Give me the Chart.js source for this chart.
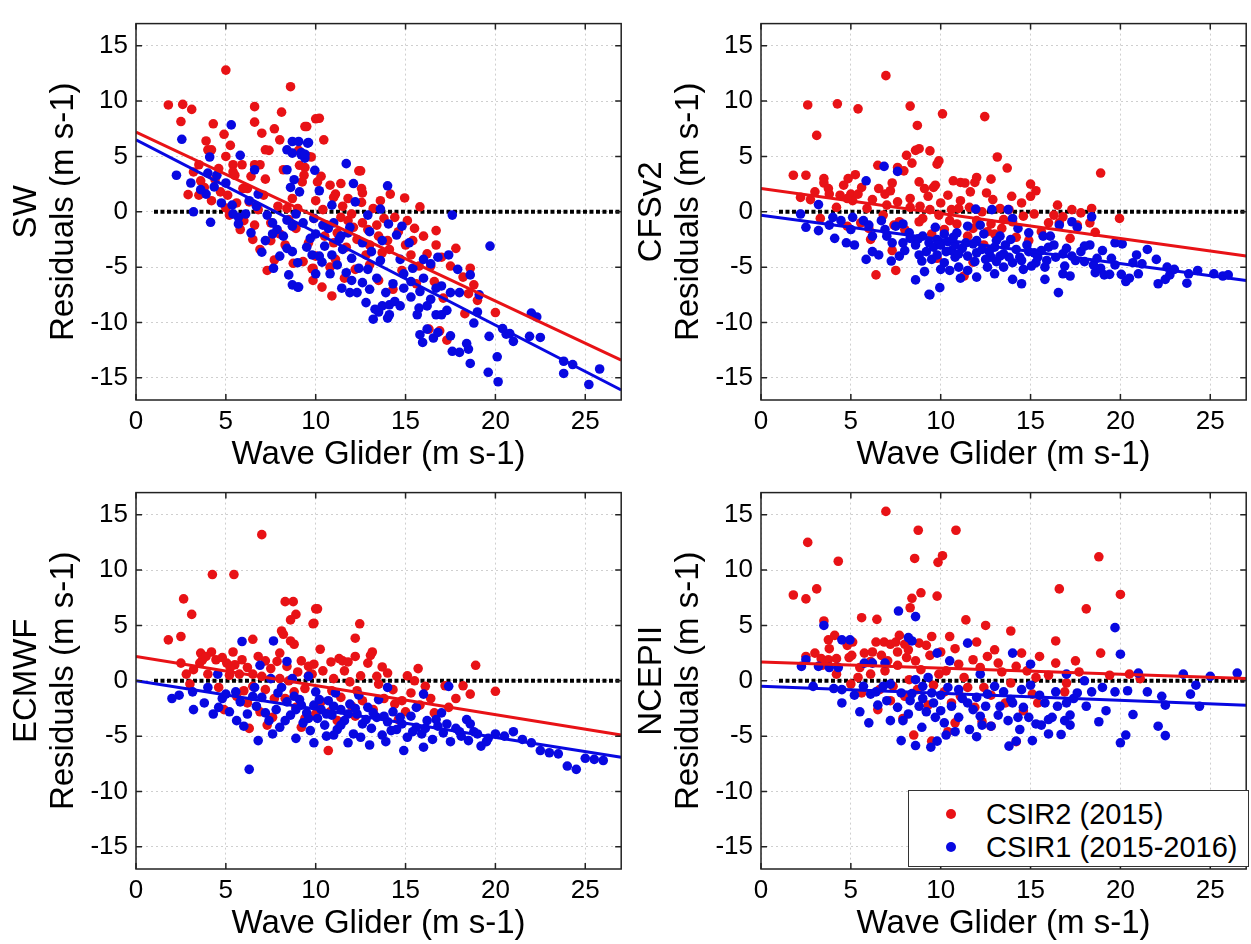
<!DOCTYPE html>
<html>
<head>
<meta charset="utf-8">
<script src="https://cdn.jsdelivr.net/npm/chart.js@4.4.1/dist/chart.umd.min.js"></script>
<style>
  body { margin: 0; background: #fff; width: 1251px; height: 944px; overflow: hidden; position: relative; font-family: "Liberation Sans", Arial, sans-serif; }
  .panel { position: absolute; width: 626px; height: 480px; }
  #legend { position: absolute; left: 908px; top: 790px; width: 339px; height: 75px; border: 1px solid #333; background: #fff; font-size: 29px; color: #000; }
  #legend .row { position: absolute; left: 0; height: 34px; line-height: 34px; }
  #legend .dot { position: absolute; left: 37px; top: 12px; width: 10px; height: 10px; border-radius: 50%; }
  #legend .txt { position: absolute; left: 77px; top: 0; white-space: nowrap; }
</style>
</head>
<body>
<div class="panel" style="left:0;top:0"><canvas id="sw" width="626" height="480"></canvas></div>
<div class="panel" style="left:625px;top:0"><canvas id="cfs" width="626" height="480"></canvas></div>
<div class="panel" style="left:0;top:469px"><canvas id="ec" width="626" height="480"></canvas></div>
<div class="panel" style="left:625px;top:469px"><canvas id="nc" width="626" height="480"></canvas></div>
<div id="legend">
  <div class="row" style="top:6px"><span class="dot" style="background:rgb(232,18,22)"></span><span class="txt">CSIR2 (2015)</span></div>
  <div class="row" style="top:39px"><span class="dot" style="background:rgb(8,8,225)"></span><span class="txt">CSIR1 (2015-2016)</span></div>
</div>
<script>
const xTicks = [0, 5, 10, 15, 20, 25];
const yTicks = [-15, -10, -5, 0, 5, 10, 15];
const fitX = [0, 27];
const zeroX = [1, 27];
const seriesNames = ['CSIR2 (2015)', 'CSIR1 (2015-2016)'];

// SW
const swRed = [[1.8,9.65],[2.6,9.7],[3.1,9.25],[2.5,8.15],[5.0,12.8],[8.6,11.3],[6.6,9.5],[6.6,8.1],[8.1,9.0],[7.7,7.5],[7.0,7.1],[4.9,7.0],[4.3,7.95],[5.25,6.0],[3.9,6.4],[4.0,5.6],[4.2,5.6],[7.4,5.55],[7.2,5.6],[9.5,7.7],[10.0,8.4],[3.5,4.25],[3.6,2.8],[3.5,1.5],[2.9,1.55],[5.0,5.0],[5.4,4.25],[5.4,3.6],[5.5,3.3],[5.9,4.25],[6.4,3.2],[6.6,4.25],[6.9,4.25],[7.2,2.95],[5.95,2.1],[6.2,2.1],[4.7,1.8],[5.1,1.5],[5.0,0.35],[5.2,-0.3],[9.05,5.55],[9.1,4.2],[9.6,5.0],[8.4,0.3],[8.7,1.2],[10.0,1.0],[6.5,-2.5],[9.25,2.7],[7.7,-4.35],[8.75,-4.65],[9.3,-4.5],[9.85,-6.2],[9.85,-5.1],[10.2,8.45],[9.4,7.7],[10.45,6.5],[9.75,4.95],[12.4,3.7],[12.5,3.7],[10.8,2.4],[11.4,2.55],[12.55,2.1],[12.6,1.7],[11.0,1.3],[11.1,1.6],[11.8,1.2],[12.55,0.85],[14.15,1.6],[14.95,1.25],[15.8,0.45],[16.7,-1.7],[15.4,-2.6],[16.7,-3.0],[12.9,-1.6],[11.4,-0.5],[10.3,3.2],[10.1,2.7],[9.4,4.0],[9.35,3.3],[13.5,-2.2],[12.6,-1.0],[12.1,-1.4],[9.8,-5.15],[10.35,-6.8],[10.9,-7.6],[11.1,-4.3],[12.8,-3.9],[13.7,-3.7],[14.1,-3.4],[15.3,-3.9],[15.75,-4.9],[16.4,-4.9],[16.6,-6.3],[17.5,-4.9],[18.6,-5.1],[18.8,-6.6],[18.5,-7.4],[18.3,-9.2],[20.0,-9.1],[16.9,-10.75],[17.3,-11.6],[16.3,-10.6],[13.5,-6.2],[14.3,-7.0],[10.0,-4.0],[7.5,-1.0],[8.0,-2.0],[8.3,-3.0],[7.9,0.5],[6.8,0.2],[6.0,-0.8],[5.6,0.8],[4.4,2.9],[4.6,3.9],[8.9,-1.5],[9.6,-2.8],[10.6,-1.2],[11.0,-2.8],[11.7,-3.2],[10.4,0.2],[13.2,0.3],[13.8,-0.6],[14.6,-1.8],[15.1,-0.8],[7.3,-5.3],[6.9,-3.4],[11.6,-6.0],[12.2,-5.2],[13.0,-4.8],[14.8,-5.3],[15.6,-6.5],[17.1,-7.8],[3.2,3.6],[8.2,3.8],[8.0,6.5],[10.5,-2.2],[11.2,-1.9],[11.8,-0.8],[12.3,-2.5],[13.0,-3.0],[13.4,-1.2],[14.0,-2.6],[14.4,-0.5],[15.0,-3.0],[15.5,-1.5],[16.0,-2.2],[16.2,-3.8],[17.0,-4.1],[17.8,-3.3],[18.2,-5.9],[19.0,-8.0],[11.5,0.5],[12.0,-0.2],[13.6,1.0],[8.5,-0.7],[9.0,0.3],[9.9,-0.6],[7.1,1.5],[6.3,0.9],[4.2,1.0],[3.8,2.2],[5.8,-1.6],[6.6,-1.2],[7.5,-2.6],[10.8,-5.0]];
const swBlue = [[2.55,6.55],[5.3,7.85],[2.25,3.3],[3.05,2.6],[4.1,4.95],[4.5,3.3],[4.0,3.5],[3.9,1.6],[4.35,2.25],[4.75,0.8],[4.15,-0.95],[5.35,0.6],[5.8,5.1],[6.6,3.8],[6.8,1.6],[6.7,0.5],[8.7,6.35],[9.05,6.35],[9.55,6.2],[8.4,5.6],[8.7,5.3],[9.2,5.15],[9.4,4.85],[8.4,3.8],[8.8,2.9],[8.6,2.2],[9.1,1.8],[8.4,-0.75],[8.7,-1.3],[8.2,-2.2],[7.85,-1.6],[7.6,-1.0],[5.7,-0.5],[6.1,-0.2],[5.4,-0.2],[5.7,-1.1],[7.0,-3.65],[7.65,-5.1],[8.5,-5.7],[8.7,-6.6],[9.0,-6.8],[8.4,-3.3],[8.7,-3.6],[9.8,-3.9],[9.6,6.25],[9.2,5.35],[9.4,5.2],[9.95,3.75],[11.7,4.35],[12.1,2.55],[14.0,2.35],[10.2,1.9],[12.2,0.9],[13.6,0.25],[17.6,-0.3],[14.05,-1.1],[14.8,-1.3],[14.5,-2.1],[19.7,-3.1],[11.9,-1.4],[11.0,-1.0],[10.0,-2.0],[11.3,-2.5],[11.4,-2.2],[10.7,-1.5],[9.05,-6.8],[10.35,-4.55],[10.9,-3.9],[11.45,-6.9],[11.9,-7.3],[12.3,-7.3],[11.7,-5.5],[12.4,-5.1],[12.9,-5.2],[13.2,-9.7],[13.5,-9.05],[14.0,-9.6],[14.1,-9.3],[13.7,-8.5],[14.1,-8.4],[14.4,-8.1],[14.7,-8.5],[15.3,-7.7],[15.65,-9.3],[15.75,-8.7],[15.8,-11.1],[15.95,-11.8],[16.2,-10.6],[16.55,-11.4],[16.8,-10.9],[16.7,-9.3],[17.0,-9.3],[17.3,-8.9],[17.5,-11.2],[17.6,-12.6],[18.0,-12.7],[18.4,-11.9],[18.5,-12.4],[18.6,-13.7],[19.0,-9.05],[18.8,-10.05],[19.6,-14.5],[20.1,-13.1],[20.15,-15.35],[19.65,-11.25],[20.4,-10.55],[20.6,-11.05],[20.8,-11.0],[21.0,-11.7],[21.9,-11.25],[22.5,-11.35],[22.0,-9.15],[22.3,-9.5],[23.8,-13.5],[23.8,-14.6],[24.3,-13.8],[25.2,-15.6],[25.8,-14.2],[16.8,-4.1],[16.4,-4.7],[17.4,-3.9],[17.9,-5.2],[18.6,-5.7],[19.1,-7.5],[18.0,-7.3],[17.5,-7.3],[16.4,-7.9],[17.0,-6.7],[16.7,-6.9],[15.3,-6.3],[14.9,-6.9],[15.8,-7.2],[14.7,-4.3],[6.4,-1.9],[7.2,-2.6],[9.3,-1.0],[9.7,-2.4],[10.5,-3.1],[12.6,-2.8],[13.1,-3.6],[13.6,-4.4],[10.9,0.6],[12.9,-0.3],[7.3,-0.3],[6.3,1.0],[3.6,2.0],[5.0,2.6],[3.2,0.0],[9.5,-3.2],[10.2,-4.0],[10.8,-5.6],[11.2,-4.8],[12.0,-6.2],[12.6,-6.4],[13.0,-7.0],[13.4,-6.0],[13.9,-7.3],[14.3,-6.5],[14.9,-5.6],[15.4,-5.1],[16.0,-6.0],[16.2,-8.5],[12.8,-8.2],[13.3,-8.8],[10.0,-5.6],[11.5,-3.4],[12.0,-4.2],[9.0,-4.6],[8.0,-4.0],[7.6,-2.0],[8.9,-0.2],[9.9,-0.6],[10.4,-1.2],[11.8,-1.9],[13.0,-1.8],[13.7,-2.6],[15.2,-2.8],[16.0,-4.3]];
const swRedFit = [7.2, -13.4];
const swBlueFit = [6.5, -16.1];

// CFSv2
const cfsRed = [[2.6,9.65],[4.25,9.75],[5.4,9.3],[3.1,6.9],[6.95,12.3],[8.3,9.55],[8.7,7.8],[8.1,5.1],[8.6,5.55],[8.8,5.7],[8.4,4.4],[7.95,3.7],[7.6,4.0],[6.5,4.2],[5.25,3.35],[4.85,3.0],[3.5,3.0],[2.5,3.3],[1.8,3.3],[3.5,2.6],[3.75,2.1],[3.8,1.6],[4.4,1.5],[5.0,1.6],[5.4,1.6],[5.1,1.0],[4.8,1.2],[6.55,2.1],[6.9,1.6],[7.2,1.9],[7.6,0.9],[9.1,2.1],[9.7,2.4],[8.8,2.7],[2.75,1.1],[4.8,-1.3],[5.55,-1.0],[6.1,-2.5],[7.7,-0.9],[8.85,0.5],[6.4,-5.7],[7.5,-5.3],[7.3,-3.5],[10.1,8.85],[12.45,8.6],[9.4,5.5],[9.9,4.6],[9.8,4.3],[13.15,4.95],[13.7,3.95],[18.9,3.5],[10.7,2.8],[11.1,2.65],[11.35,2.6],[11.9,2.65],[12.0,3.1],[12.8,2.95],[11.65,1.8],[12.55,1.7],[12.9,1.1],[13.95,1.4],[15.0,2.5],[15.3,1.9],[15.0,1.4],[9.6,2.2],[9.3,1.4],[11.1,1.0],[11.0,0.3],[13.3,0.3],[13.8,0.2],[16.3,-0.3],[16.8,-0.45],[17.8,-0.1],[18.4,0.3],[18.3,-1.0],[19.95,-0.6],[18.6,-1.85],[16.0,-1.0],[16.6,-1.0],[10.5,-0.8],[12.0,-0.8],[12.8,-1.1],[13.5,-0.7],[14.2,-2.3],[14.9,-2.6],[11.3,-5.8],[11.8,-4.55],[9.8,-4.2],[8.0,-1.6],[9.0,-0.6],[9.5,-2.0],[10.2,-1.6],[11.5,-2.2],[12.4,-3.0],[13.0,-2.0],[6.8,-0.3],[5.9,0.3],[4.2,0.4],[3.3,-0.6],[7.3,2.6],[8.3,1.2],[10.0,0.8],[14.6,-0.4],[15.6,-1.8],[17.2,-2.4],[17.6,-1.2],[8.3,0.4],[8.8,-0.9],[9.4,0.2],[9.9,-0.3],[10.4,1.5],[10.9,-1.1],[11.6,0.4],[12.3,0.0],[12.6,-1.8],[13.4,-1.5],[14.0,-0.9],[14.5,0.8],[7.0,0.6],[6.2,1.1],[5.6,2.2],[4.6,2.4],[3.0,1.8],[2.2,1.3],[6.0,-1.5],[7.4,-1.2],[10.6,0.2],[11.8,-1.5],[15.2,-0.2],[16.5,0.6],[17.3,0.2]];
const cfsBlue = [[3.2,0.65],[2.2,-0.2],[2.5,-1.4],[3.2,-1.7],[4.1,-2.4],[4.75,-2.8],[5.2,-3.0],[5.85,2.8],[6.85,4.1],[7.6,3.65],[4.0,-0.5],[4.45,-0.8],[5.1,-0.5],[5.7,-0.8],[6.2,-2.2],[6.7,-0.8],[6.9,-1.6],[7.5,-1.3],[7.9,-1.1],[8.25,-1.9],[8.75,-2.45],[9.0,-2.2],[9.35,-2.8],[7.9,-2.8],[7.3,-2.8],[5.85,-4.3],[6.55,-3.9],[7.25,-4.45],[7.7,-4.0],[8.0,-3.5],[8.6,-6.15],[9.1,-5.4],[9.4,-7.5],[8.95,-4.45],[9.5,-4.3],[9.8,-3.9],[11.95,0.25],[12.85,0.2],[13.75,0.2],[14.0,-0.6],[18.4,-0.45],[17.3,-0.9],[17.6,-1.4],[16.6,-1.2],[19.7,-2.8],[20.1,-2.9],[16.1,-2.2],[15.7,-2.2],[14.9,-1.9],[14.3,-1.5],[13.3,-2.2],[12.2,-1.2],[11.5,-1.3],[10.9,-1.9],[10.2,-2.0],[9.7,-1.4],[13.1,-2.6],[12.0,-2.6],[9.35,-7.45],[9.95,-6.85],[10.2,-4.6],[11.1,-6.0],[12.0,-5.9],[13.0,-5.6],[14.0,-6.1],[15.8,-6.1],[16.55,-7.3],[17.2,-5.8],[16.8,-5.6],[18.6,-5.5],[18.9,-5.1],[19.1,-5.7],[19.4,-5.65],[20.05,-5.65],[20.3,-6.3],[20.5,-6.0],[20.7,-4.6],[20.9,-3.9],[21.2,-4.7],[22.1,-6.5],[22.5,-6.1],[22.75,-5.7],[23.7,-6.45],[23.8,-5.6],[24.3,-5.3],[25.2,-5.6],[25.7,-5.8],[19.7,-4.8],[18.5,-4.8],[18.0,-4.5],[17.5,-4.4],[15.8,-5.0],[15.3,-4.6],[15.05,-4.9],[14.6,-5.2],[14.0,-4.6],[13.8,-4.1],[14.4,-4.1],[13.5,-3.8],[12.8,-4.1],[13.1,-4.5],[12.5,-4.3],[12.0,-3.7],[11.5,-4.0],[11.0,-5.0],[10.8,-4.1],[10.6,-3.5],[16.8,-3.8],[16.4,-4.1],[16.9,-4.9],[15.6,-3.5],[9.6,-3.2],[10.0,-3.0],[10.4,-2.7],[10.8,-3.0],[11.2,-3.3],[11.8,-2.9],[12.3,-3.4],[13.0,-3.2],[13.6,-3.0],[14.2,-3.4],[14.8,-3.0],[15.2,-3.7],[16.0,-3.2],[17.0,-3.3],[17.8,-3.6],[18.3,-3.0],[19.0,-3.5],[21.5,-3.4],[22.0,-4.3],[8.6,-3.0],[9.2,-3.6],[6.2,-3.6],[10.5,-5.3],[12.6,-5.0],[14.5,-6.5],[22.6,-5.0],[26.0,-5.7],[9.8,-2.5],[10.3,-3.6],[10.7,-2.3],[11.0,-3.8],[11.4,-2.8],[11.9,-4.5],[12.4,-2.0],[12.7,-3.6],[13.3,-4.0],[13.9,-2.5],[14.5,-4.4],[14.9,-3.6],[15.4,-4.1],[15.9,-4.4],[16.3,-3.0],[17.3,-4.0],[18.0,-3.1],[18.7,-4.2],[19.5,-4.2],[8.3,-2.4],[8.8,-3.9],[7.0,-2.2],[6.0,-1.2],[5.0,-1.6],[3.8,-1.2],[10.0,-5.2],[11.5,-5.3],[13.5,-5.0],[21.0,-5.6],[23.0,-5.2]];
const cfsRedFit = [2.1, -4.0];
const cfsBlueFit = [-0.3, -6.2];

// ECMWF
const ecRed = [[1.8,3.7],[2.5,4.0],[2.65,7.4],[3.1,6.0],[4.25,9.6],[5.45,9.6],[7.0,13.2],[6.5,3.75],[8.3,7.15],[8.75,7.15],[8.9,6.0],[8.6,5.5],[8.1,4.5],[8.2,4.2],[8.6,3.6],[8.8,3.3],[9.9,5.2],[10.0,6.5],[2.5,1.6],[2.8,0.6],[3.6,2.5],[3.7,1.9],[3.55,1.6],[4.2,2.6],[4.45,1.9],[4.0,0.6],[5.4,2.6],[5.05,1.6],[5.5,1.45],[5.25,1.2],[5.75,0.6],[6.5,0.6],[7.2,1.8],[7.85,1.75],[8.4,1.3],[9.0,0.8],[9.6,1.3],[9.8,0.6],[6.5,-0.5],[7.2,-0.8],[10.1,6.5],[9.85,5.15],[12.45,5.15],[12.2,3.85],[10.25,2.85],[13.15,2.6],[13.05,2.3],[10.85,1.7],[11.3,2.0],[11.5,1.8],[11.8,1.7],[12.2,2.2],[13.7,1.25],[14.0,0.7],[15.1,0.45],[15.7,1.1],[18.9,1.4],[20.0,-0.95],[16.1,-0.5],[17.2,-0.45],[18.2,-0.45],[18.6,-1.2],[12.5,0.45],[11.9,-0.1],[11.0,0.2],[13.5,-0.3],[15.3,-1.1],[9.9,1.5],[9.6,0.45],[10.7,-6.3],[4.6,-0.6],[5.6,-1.4],[6.2,-2.0],[6.9,-2.8],[7.6,-3.3],[8.3,-1.6],[8.9,-2.4],[9.4,-3.4],[10.3,-1.9],[10.8,-2.8],[11.4,-1.5],[12.0,-2.3],[12.6,-1.8],[13.2,-2.6],[13.8,-1.6],[14.4,-2.1],[15.0,-2.8],[15.8,-2.2],[16.6,-2.9],[17.4,-2.4],[11.2,-3.6],[9.2,-4.2],[6.3,-4.3],[7.3,-4.0],[14.6,-3.5],[8.0,0.2],[3.0,-0.3],[3.2,1.0],[3.9,2.2],[4.8,2.1],[5.2,0.5],[5.9,1.9],[6.2,1.2],[6.8,2.2],[7.0,0.4],[7.5,1.1],[8.0,2.5],[8.5,0.0],[9.2,1.8],[9.4,-0.7],[10.4,0.9],[10.9,-0.9],[11.6,0.9],[12.3,-0.9],[12.9,1.6],[13.4,0.4],[14.3,-0.8],[14.8,-1.8],[15.5,0.0],[16.4,-1.6],[17.8,-1.6],[8.8,-1.0],[7.7,-1.6],[6.0,-0.9],[4.9,-2.6],[10.0,-3.0],[12.2,-3.2]];
const ecBlue = [[5.9,3.55],[7.65,3.6],[6.9,1.4],[8.4,1.75],[4.55,0.6],[3.15,-1.0],[4.0,-0.6],[5.0,-1.2],[5.55,-1.0],[6.6,-0.6],[7.5,0.2],[8.1,-0.6],[8.7,0.2],[2.4,-1.3],[9.6,0.4],[14.0,-0.6],[17.4,-0.5],[16.0,-1.2],[11.1,-1.1],[6.3,-8.0],[3.8,-2.0],[4.6,-2.4],[5.2,-2.8],[5.8,-1.9],[6.2,-3.0],[6.7,-2.3],[7.0,-1.5],[7.4,-3.6],[7.8,-2.6],[8.0,-4.2],[8.4,-1.9],[8.6,-3.1],[8.9,-2.6],[9.1,-1.7],[9.3,-3.8],[9.5,-2.9],[9.7,-4.5],[9.9,-2.2],[10.1,-3.4],[10.3,-2.6],[10.5,-4.0],[10.7,-1.8],[10.9,-3.1],[11.2,-4.4],[11.4,-2.6],[11.6,-3.6],[11.9,-2.1],[12.1,-4.8],[12.3,-3.0],[12.6,-3.9],[12.9,-2.4],[13.1,-4.3],[13.4,-3.3],[13.7,-4.9],[14.0,-3.7],[14.3,-2.8],[14.5,-4.4],[14.8,-3.9],[15.1,-5.1],[15.3,-3.2],[15.6,-4.2],[15.9,-4.8],[16.2,-3.6],[16.5,-5.3],[16.8,-4.1],[17.1,-4.7],[17.5,-5.5],[17.8,-4.3],[18.1,-5.0],[18.5,-5.4],[18.8,-4.6],[19.2,-5.9],[19.6,-5.2],[20.0,-4.8],[20.5,-5.0],[21.0,-4.6],[21.5,-5.3],[22.0,-5.6],[22.5,-6.3],[23.0,-6.5],[23.5,-6.6],[24.0,-7.7],[24.5,-8.0],[25.0,-7.0],[25.5,-7.1],[26.0,-7.2],[19.5,-5.5],[13.0,-5.8],[11.8,-5.6],[10.6,-5.0],[8.9,-5.2],[7.6,-4.8],[6.0,-4.1],[14.9,-6.3],[16.0,-6.0],[12.4,-1.3],[13.5,-1.7],[10.0,-1.0],[15.6,-2.4],[17.0,-2.9],[4.3,-3.0],[3.2,-2.6],[2.0,-1.6],[5.6,-3.6],[6.8,-5.4],[18.4,-3.5],[6.5,-1.4],[7.2,-2.9],[7.9,-1.1],[8.3,-3.6],[8.8,-1.4],[9.2,-2.2],[9.6,-3.4],[10.2,-1.7],[10.6,-3.0],[11.0,-2.3],[11.4,-4.0],[11.8,-3.0],[12.2,-2.5],[12.8,-3.5],[13.2,-2.9],[13.8,-3.2],[14.2,-4.5],[14.7,-3.3],[15.4,-4.6],[16.1,-4.3],[16.7,-3.5],[17.3,-3.9],[18.0,-4.6],[18.6,-3.9],[19.0,-4.8],[9.9,-5.6],[11.0,-4.9],[12.5,-5.1],[13.9,-5.5],[4.8,-1.6]];
const ecRedFit = [2.2, -4.9];
const ecBlueFit = [0.0, -6.9];

// NCEPII
const ncRed = [[1.8,7.75],[2.5,7.4],[2.6,12.5],[3.1,8.3],[4.3,10.8],[3.5,5.4],[3.75,3.7],[4.1,4.1],[5.6,5.7],[6.45,5.55],[6.95,15.3],[8.75,13.6],[8.55,11.05],[8.9,7.95],[8.4,7.45],[8.3,6.6],[9.8,7.65],[9.85,10.7],[2.5,2.2],[3.0,2.5],[3.8,2.9],[3.35,2.0],[3.75,1.9],[4.2,2.0],[4.9,2.1],[5.1,3.5],[4.8,3.2],[5.05,2.3],[5.75,2.5],[6.1,1.75],[6.4,3.5],[6.85,3.5],[7.2,3.3],[7.5,3.5],[7.7,4.1],[8.0,3.3],[7.6,2.6],[8.1,2.1],[8.6,1.8],[8.8,3.4],[9.2,3.2],[9.5,4.0],[6.7,2.3],[7.05,1.8],[6.1,0.6],[5.4,0.3],[5.0,-0.3],[5.6,-1.1],[7.35,-0.5],[8.25,0.1],[8.7,-0.8],[8.5,-4.9],[9.5,-5.45],[10.4,-4.6],[14.2,-5.5],[12.3,-3.7],[12.8,-4.1],[10.8,-3.8],[7.9,-3.4],[14.6,-2.7],[15.4,-2.0],[16.9,-1.0],[10.85,13.6],[10.1,11.3],[18.8,11.2],[16.4,3.6],[18.1,6.5],[16.6,8.3],[20.0,7.8],[12.5,5.0],[13.9,4.5],[11.4,5.5],[10.5,4.0],[12.0,3.5],[13.0,2.8],[14.5,2.5],[15.5,2.2],[17.5,1.8],[18.9,2.5],[19.4,0.5],[20.5,0.6],[10.0,2.6],[11.0,1.5],[12.2,1.2],[13.4,0.8],[14.8,0.9],[16.0,0.5],[17.0,-0.2],[10.2,-1.0],[11.5,-0.6],[12.8,-1.3],[13.6,-2.0],[9.3,-2.2],[6.5,-2.6],[7.2,-1.8],[9.9,0.6],[11.9,-2.4],[15.1,-1.2],[17.7,0.8],[21.1,0.2],[5.5,1.2],[6.2,2.6],[6.9,0.9],[7.6,1.4],[8.2,2.8],[8.9,1.0],[9.4,2.3],[10.3,0.9],[10.8,2.9],[11.3,0.3],[11.8,1.9],[12.6,2.2],[13.2,1.6],[13.9,-0.2],[14.2,1.3],[15.3,0.3],[16.4,1.6],[9.6,-0.4],[10.6,-2.0],[11.1,-1.4],[12.4,-0.6],[8.0,-1.4],[6.6,-0.8],[4.2,0.6],[3.4,1.4]];
const ncBlue = [[3.5,5.0],[2.25,1.3],[2.5,1.9],[3.2,1.3],[3.8,1.2],[4.3,1.2],[4.5,3.7],[4.95,3.7],[5.75,1.6],[6.2,1.6],[6.9,1.6],[7.65,6.3],[8.6,5.8],[8.4,3.6],[8.2,3.9],[2.9,-0.5],[4.05,-0.7],[4.5,-0.8],[5.7,-0.5],[6.1,-1.2],[6.8,-0.5],[7.2,-0.3],[7.8,-1.1],[8.6,0.1],[9.0,-0.5],[9.3,0.3],[9.8,2.5],[9.5,-1.1],[7.8,-5.4],[8.6,-5.85],[9.45,-6.0],[9.8,-5.45],[10.3,-4.9],[10.8,-4.6],[12.0,-5.05],[13.8,-5.9],[14.2,-5.45],[16.7,-4.85],[20.0,-5.6],[20.3,-4.9],[20.7,-3.05],[22.1,-4.1],[22.5,-4.95],[18.8,-3.7],[19.2,-2.7],[19.7,-1.0],[20.4,-0.9],[22.3,-1.4],[22.5,-2.2],[23.9,-1.2],[24.4,-2.3],[8.4,-1.15],[8.8,-2.3],[9.7,-3.3],[10.0,-2.7],[10.6,-2.3],[11.0,-3.3],[11.5,-2.0],[12.3,-4.0],[12.8,-4.1],[13.2,-3.1],[13.75,-3.6],[14.3,-3.3],[14.9,-3.3],[15.3,-3.9],[15.6,-4.0],[16.0,-3.5],[16.2,-3.3],[16.9,-3.6],[17.2,-4.0],[17.2,-3.1],[16.5,-2.3],[17.0,-2.0],[17.6,-1.1],[18.1,-2.3],[13.3,-2.3],[13.9,-1.7],[12.5,-2.3],[7.9,-3.6],[8.2,-3.0],[8.95,-4.2],[19.7,4.8],[20.0,2.4],[21.0,0.7],[23.5,0.6],[25.0,0.4],[26.5,0.7],[24.2,-0.4],[18.0,0.0],[17.0,0.6],[15.0,1.5],[14.0,2.5],[11.5,3.4],[10.5,1.8],[12.2,0.6],[13.0,-0.5],[14.5,-0.8],[15.5,-1.3],[11.0,-0.8],[10.0,-1.3],[12.0,-1.5],[6.5,-2.2],[5.5,-2.8],[4.5,-2.0],[7.2,-3.6],[6.0,-3.8],[9.2,-2.8],[15.1,-5.4],[11.6,-4.4],[5.2,-1.3],[6.4,-1.0],[7.0,-1.8],[7.6,-2.4],[8.3,-1.8],[9.0,-1.6],[9.6,-2.0],[10.2,-3.8],[10.4,-0.6],[11.2,-1.6],[11.8,-2.6],[12.2,-3.2],[12.6,-1.2],[13.5,-1.0],[14.0,-2.0],[14.6,-2.4],[15.0,-0.4],[15.8,-2.0],[16.4,-1.0],[17.4,-1.6],[18.4,-1.0],[19.0,-0.6],[21.5,-1.0],[14.4,-4.4],[16.0,-4.8]];
const ncRedFit = [1.7, 0.2];
const ncBlueFit = [-0.5, -2.2];

const RED = 'rgb(232,18,22)';
const BLUE = 'rgb(8,8,225)';
const FONT = '"Liberation Sans", Arial, sans-serif';

const framePlugin = {
    id: 'frame',
    afterDraw(chart) {
        const ctx = chart.ctx;
        const a = chart.chartArea;
        const sx = chart.scales.x;
        const sy = chart.scales.y;
        ctx.save();
        ctx.strokeStyle = '#222';
        ctx.lineWidth = 1.5;
        ctx.strokeRect(a.left, a.top, a.right - a.left, a.bottom - a.top);
        ctx.beginPath();
        xTicks.forEach(function (v) {
            const px = sx.getPixelForValue(v);
            ctx.moveTo(px, a.bottom); ctx.lineTo(px, a.bottom - 6);
            ctx.moveTo(px, a.top); ctx.lineTo(px, a.top + 6);
        });
        yTicks.forEach(function (v) {
            const py = sy.getPixelForValue(v);
            ctx.moveTo(a.left, py); ctx.lineTo(a.left + 6, py);
            ctx.moveTo(a.right, py); ctx.lineTo(a.right - 6, py);
        });
        ctx.stroke();
        ctx.restore();
    }
};

function toPoints(arr) {
    return arr.map(function (p) { return { x: p[0], y: p[1] }; });
}

function linePoints(xs, ys) {
    return xs.map(function (x, i) { return { x: x, y: ys[i] }; });
}

function makePanel(id, name, red, blue, redFit, blueFit) {
    new Chart(document.getElementById(id), {
        type: 'scatter',
        data: {
            datasets: [
                { type: 'line', label: 'zero', data: linePoints(zeroX, [0, 0]), borderColor: '#000', borderWidth: 4, borderDash: [4, 2.5], pointRadius: 0, order: 5 },
                { label: seriesNames[0], data: toPoints(red), backgroundColor: RED, borderWidth: 0, pointRadius: 4.8, order: 4 },
                { label: seriesNames[1], data: toPoints(blue), backgroundColor: BLUE, borderWidth: 0, pointRadius: 4.8, order: 3 },
                { type: 'line', label: 'fit red', data: linePoints(fitX, redFit), borderColor: RED, borderWidth: 3, pointRadius: 0, order: 2 },
                { type: 'line', label: 'fit blue', data: linePoints(fitX, blueFit), borderColor: BLUE, borderWidth: 3, pointRadius: 0, order: 1 }
            ]
        },
        options: {
            responsive: false,
            animation: false,
            layout: { padding: { top: 8, right: 2, left: 0, bottom: 0 } },
            plugins: { legend: { display: false }, tooltip: { enabled: false } },
            scales: {
                x: {
                    type: 'linear', min: 0, max: 27,
                    afterBuildTicks: function (s) { s.ticks = xTicks.map(function (v) { return { value: v }; }); },
                    afterFit: function (s) { s.height = 80; },
                    grid: { color: '#cfcfcf', lineWidth: 1, drawTicks: false },
                    border: { display: false, dash: [2, 3] },
                    ticks: { padding: 6, color: '#000', font: { size: 26, family: FONT } },
                    title: { display: true, text: 'Wave Glider (m s-1)', color: '#000', font: { size: 33, family: FONT }, padding: { top: 0, bottom: 5 } }
                },
                y: {
                    type: 'linear', min: -17, max: 17,
                    afterBuildTicks: function (s) { s.ticks = yTicks.map(function (v) { return { value: v }; }); },
                    afterFit: function (s) { s.width = 136; },
                    grid: { color: '#cfcfcf', lineWidth: 1, drawTicks: false },
                    border: { display: false, dash: [2, 3] },
                    ticks: { padding: 8, color: '#000', font: { size: 26, family: FONT } },
                    title: { display: true, text: [name, 'Residuals (m s-1)'], color: '#000', font: { size: 33, family: FONT, lineHeight: 1.12 }, padding: { top: 8, bottom: 0 } }
                }
            }
        },
        plugins: [framePlugin]
    });
}

makePanel('sw', 'SW', swRed, swBlue, swRedFit, swBlueFit);
makePanel('cfs', 'CFSv2', cfsRed, cfsBlue, cfsRedFit, cfsBlueFit);
makePanel('ec', 'ECMWF', ecRed, ecBlue, ecRedFit, ecBlueFit);
makePanel('nc', 'NCEPII', ncRed, ncBlue, ncRedFit, ncBlueFit);
</script>
</body>
</html>
